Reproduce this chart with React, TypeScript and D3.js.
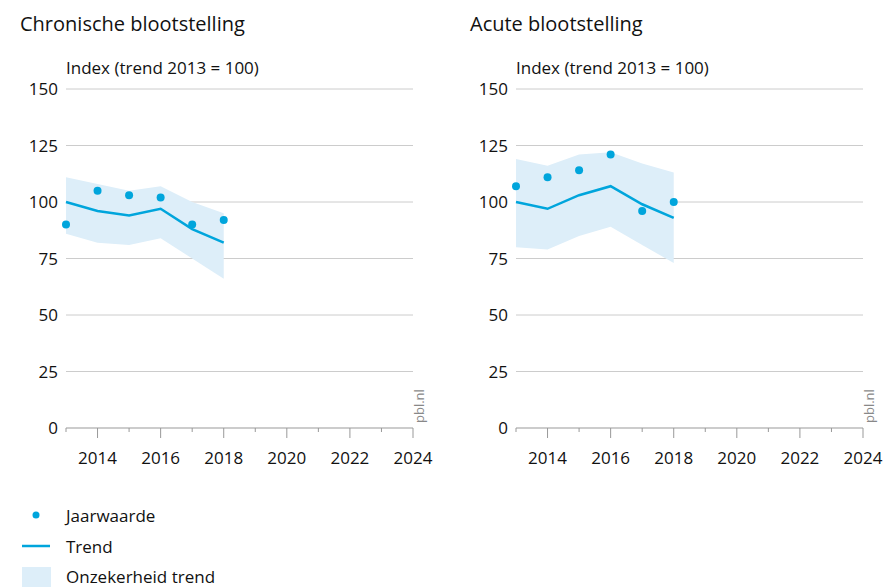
import React from "react";
import * as d3 from "d3";

const years = [2013, 2014, 2015, 2016, 2017, 2018];
const xTicks = [2014, 2016, 2018, 2020, 2022, 2024];
const yTicks = [0, 25, 50, 75, 100, 125, 150];

const chronJaar = [90, 105, 103, 102, 90, 92];
const chronTrend = [100, 96, 94, 97, 88, 82];
const chronUpper = [111, 108, 105, 107, 100, 95];
const chronLower = [86, 82, 81, 84, 75, 66];

const acuteJaar = [107, 111, 114, 121, 96, 100];
const acuteTrend = [100, 97, 103, 107, 99, 93];
const acuteUpper = [119, 116, 121, 122, 117, 113];
const acuteLower = [80, 79, 85, 89, 81, 73];

const titles = ["Chronische blootstelling", "Acute blootstelling"];
const yLabel = "Index (trend 2013 = 100)";
const legendLabels = ["Jaarwaarde", "Trend", "Onzekerheid trend"];

const BLUE = "#00a5dc";
const BAND = "#ddeef9";
const GRID = "#cccccc";
const FONT = "'Open Sans', 'Noto Sans', sans-serif";
const FS = 17;

type PanelProps = {
  ox: number;
  title: string;
  jaar: number[];
  trend: number[];
  upper: number[];
  lower: number[];
};

function Panel({ ox, title, jaar, trend, upper, lower }: PanelProps) {
  const x = d3.scaleLinear().domain([2013, 2024]).range([66, 413]);
  const y = d3.scaleLinear().domain([0, 150]).range([428, 89]);
  const area = d3
    .area<number>()
    .x((_, i) => x(years[i]))
    .y0((_, i) => y(lower[i]))
    .y1((_, i) => y(upper[i]));
  const line = d3
    .line<number>()
    .x((_, i) => x(years[i]))
    .y((d) => y(d));
  const allYears = d3.range(2013, 2025);
  return (
    <g transform={`translate(${ox},0)`}>
      <text x={20} y={31} fontSize={20} fill="#111">{title}</text>
      <text x={66} y={74} fontSize={FS} fill="#111">{yLabel}</text>
      {yTicks.map((t) => (
        <g key={t}>
          {t > 0 && (
            <line x1={66} x2={413} y1={y(t)} y2={y(t)} stroke={GRID} strokeWidth={1} />
          )}
          <text x={58} y={y(t) + 6} fontSize={FS} textAnchor="end" fill="#111">
            {t}
          </text>
        </g>
      ))}
      <path d={area(upper) || ""} fill={BAND} />
      <path d={line(trend) || ""} fill="none" stroke={BLUE} strokeWidth={2.5} />
      {jaar.map((v, i) => (
        <circle key={i} cx={x(years[i])} cy={y(v)} r={4} fill={BLUE} />
      ))}
      <line x1={66} x2={413} y1={428} y2={428} stroke="#999" strokeWidth={1} />
      {allYears.map((yr) => (
        <line
          key={yr}
          x1={x(yr)}
          x2={x(yr)}
          y1={428}
          y2={yr % 2 === 0 ? 438 : 432}
          stroke="#999"
          strokeWidth={1}
        />
      ))}
      {xTicks.map((t) => (
        <text key={t} x={x(t)} y={464} fontSize={FS} textAnchor="middle" fill="#111">
          {t}
        </text>
      ))}
      <text
        transform={`translate(424,423) rotate(-90)`}
        fontSize={13}
        fill="#888"
      >
        pbl.nl
      </text>
    </g>
  );
}

export default function App() {
  return (
    <svg
      width={885}
      height={587}
      style={{ position: "absolute", left: 0, top: 0, fontFamily: FONT }}
    >
      <rect width={885} height={587} fill="#fff" />
      <Panel ox={0} title={titles[0]} jaar={chronJaar} trend={chronTrend} upper={chronUpper} lower={chronLower} />
      <Panel ox={450} title={titles[1]} jaar={acuteJaar} trend={acuteTrend} upper={acuteUpper} lower={acuteLower} />
      <g>
        <circle cx={36} cy={515} r={3.5} fill={BLUE} />
        <text x={66} y={522} fontSize={FS} fill="#111">{legendLabels[0]}</text>
        <line x1={22} x2={50} y1={546} y2={546} stroke={BLUE} strokeWidth={2.5} />
        <text x={66} y={553} fontSize={FS} fill="#111">{legendLabels[1]}</text>
        <rect x={22} y={567} width={29} height={20} fill={BAND} />
        <text x={66} y={583} fontSize={FS} fill="#111">{legendLabels[2]}</text>
      </g>
    </svg>
  );
}
